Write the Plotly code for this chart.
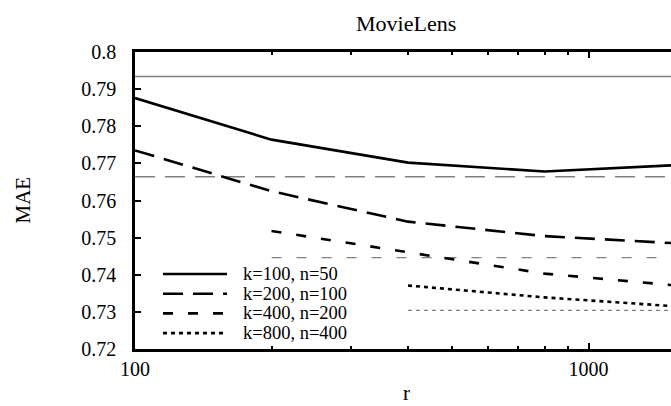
import plotly.graph_objects as go

# ---- data ----
r = [100, 200, 400, 800, 1600]
mae_k100 = [0.7876, 0.7764, 0.7702, 0.7678, 0.7696]
mae_k200 = [0.7735, 0.7625, 0.7543, 0.7504, 0.7484]
mae_k400 = [None, 0.7518, 0.7460, 0.7403, 0.7370]
mae_k800 = [None, None, 0.7371, 0.7339, 0.7314]
baseline = [0.7934, 0.7664, 0.7446, 0.7304]
labels = ["k=100, n=50", "k=200, n=100", "k=400, n=200", "k=800, n=400"]
yticks = [0.72, 0.73, 0.74, 0.75, 0.76, 0.77, 0.78, 0.79, 0.80]
ytick_text = ["0.72", "0.73", "0.74", "0.75", "0.76", "0.77", "0.78", "0.79", "0.8"]
xticks = [100, 1000]
xtick_text = ["100", "1000"]
xminor = [200, 300, 400, 500, 600, 700, 800, 900]

series = [mae_k100, mae_k200, mae_k400, mae_k800]
dashes = ["solid", "20px,10px", "10px,15px", "4px,4px"]

FONT = "Liberation Serif"

fig = go.Figure()

# gray baselines
for vals, base, d in zip(series, baseline, dashes):
    xs = [x for x, v in zip(r, vals) if v is not None]
    fig.add_trace(go.Scatter(
        x=[xs[0], xs[-1]], y=[base, base], mode="lines",
        line=dict(color="#808080", width=1.3, dash=d),
        showlegend=False, hoverinfo="skip"))

for vals, name, d in zip(series, labels, dashes):
    fig.add_trace(go.Scatter(
        x=r, y=vals, mode="lines", name=name, showlegend=False,
        line=dict(color="black", width=2.6, dash=d)))

W, H = 671, 406
L, R, T, B = 135, 0, 52, 57
pw = W - L - R
ph = H - T - B
bottom = T + ph
decade = 453.5
xmax = 2 + pw / decade

def px_x(p):
    return (p - L) / pw

def px_y(p):
    return (bottom - p) / ph

# legend (line samples + labels)
shapes = []
annotations = []
rows = [274, 293.7, 313.4, 333.1]
for name, d, ry in zip(labels, dashes, rows):
    shapes.append(dict(type="line", xref="paper", yref="paper",
                       x0=px_x(163), x1=px_x(227), y0=px_y(ry), y1=px_y(ry),
                       line=dict(color="black", width=2.6, dash=d)))
    annotations.append(dict(text=name, xref="paper", yref="paper",
                            x=px_x(241), y=px_y(ry), xanchor="left", yanchor="middle",
                            showarrow=False, font=dict(family=FONT, size=18.5)))

annotations += [
    dict(text="MovieLens", xref="paper", yref="paper",
         x=px_x(406), y=px_y(24), xanchor="center", yanchor="middle",
         showarrow=False, font=dict(family=FONT, size=22)),
    dict(text="MAE", xref="paper", yref="paper",
         x=px_x(22), y=0.5, xanchor="center", yanchor="middle", textangle=-90,
         showarrow=False, font=dict(family=FONT, size=21)),
    dict(text="r", xref="paper", yref="paper",
         x=px_x(406), y=px_y(393), xanchor="center", yanchor="middle",
         showarrow=False, font=dict(family=FONT, size=21)),
]

fig.update_layout(
    width=W, height=H,
    margin=dict(l=L, r=R, t=T, b=B),
    paper_bgcolor="white", plot_bgcolor="white",
    font=dict(family=FONT, size=20, color="black"),
    showlegend=False,
    xaxis=dict(
        type="log", range=[2, xmax],
        tickvals=xticks, ticktext=xtick_text,
        ticks="inside", ticklen=6, tickwidth=1.5, tickcolor="black",
        minor=dict(tickvals=xminor, ticks="inside", ticklen=3, tickwidth=1.5, tickcolor="black"),
        showline=True, linewidth=2.5, linecolor="black", mirror="allticks",
        showgrid=False, zeroline=False,
        ticklabelstandoff=0,
        tickfont=dict(family=FONT, size=20),
    ),
    yaxis=dict(
        range=[0.72, 0.80],
        tickvals=yticks, ticktext=ytick_text,
        ticks="inside", ticklen=6, tickwidth=1.5, tickcolor="black",
        showline=True, linewidth=2.5, linecolor="black", mirror=False,
        showgrid=False, zeroline=False,
        ticklabelstandoff=12,
        tickfont=dict(family=FONT, size=20),
    ),
    shapes=shapes,
    annotations=annotations,
)

fig.write_html("out.html")
